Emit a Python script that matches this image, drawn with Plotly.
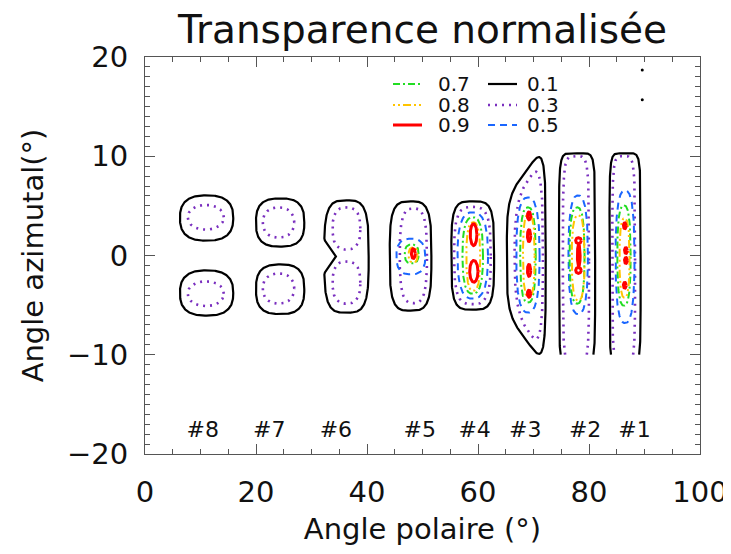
import numpy as np
import plotly.graph_objects as go

# ---------------- data ----------------
title_text = "Transparence normalisée"
x_title = "Angle polaire (°)"
y_title = "Angle azimutal(°)"

window_names = ["#8", "#7", "#6", "#5", "#4", "#3", "#2", "#1"]
window_label_x = [10.4, 22.4, 34.4, 49.5, 59.4, 68.5, 79.3, 88.2]
window_label_y = [-17.7] * 8

data_y_floor = -10.0   # lower edge of the computed domain

# each ring: (x_left, x_right, y_top_left, y_top_right, y_bottom_left, y_bottom_right)
rings_01 = [
    (6.3, 15.9, 6.06, 6.06, 1.5, 1.5), (6.3, 15.9, -1.5, -1.5, -6.06, -6.06),
    (20.0, 28.7, 5.75, 5.75, 0.9, 0.9), (20.0, 28.7, -0.9, -0.9, -5.9, -5.9),
    (32.3, 40.3, 5.55, 5.55, -5.75, -5.75),
    (44.1, 51.6, 5.45, 5.45, -5.55, -5.55),
    (55.2, 62.9, 5.45, 5.45, -5.45, -5.45),
    (65.2, 72.2, 5.9, 11.2, -5.9, -11.2),
    (74.6, 81.1, 10.3, 10.3, -11.0, -11.0),
    (83.7, 89.3, 10.3, 10.3, -11.0, -11.0),
]
pinch_01 = [0, 0, 0, 0, 2.1, 0, 0, 0, 0, 0]
shape_n_01 = [2.6, 2.6, 2.8, 2.8, 3.6, 3.6, 4.0, 4.5, 7.0, 7.0]

rings_03 = [
    (7.7, 14.2, 5.1, 5.1, 2.6, 2.6), (7.7, 14.2, -2.6, -2.6, -5.1, -5.1),
    (21.2, 26.9, 4.85, 4.85, 1.8, 1.8), (21.2, 26.9, -1.8, -1.8, -4.85, -4.85),
    (33.8, 38.8, 4.85, 4.85, 0.6, 0.6), (33.8, 38.8, -0.6, -0.6, -4.85, -4.85),
    (45.9, 50.8, 4.75, 4.75, -4.8, -4.8),
    (55.7, 62.3, 4.9, 4.9, -4.9, -4.9),
    (66.6, 71.7, 5.6, 9.8, -5.6, -9.8),
    (75.3, 80.0, 10.0, 10.0, -11.0, -11.0),
    (84.2, 88.3, 10.0, 10.0, -11.0, -11.0),
]
shape_n_03 = [2.1, 2.1, 2.2, 2.2, 2.6, 2.6, 3.0, 3.2, 3.2, 5.0, 5.0]

rings_05 = [
    (45.3, 50.5, 1.7, 1.7, -1.9, -1.9),
    (56.3, 61.8, 4.35, 4.35, -4.35, -4.35),
    (66.9, 71.1, 5.85, 5.85, -5.75, -5.75),
    (76.3, 79.8, 6.05, 6.05, -5.9, -5.9),
    (84.8, 88.2, 6.55, 6.55, -6.8, -6.8),
]

rings_07 = [
    (46.8, 49.3, 1.1, 1.1, -0.8, -0.8),
    (57.2, 60.9, 3.85, 3.85, -3.85, -3.85),
    (67.6, 70.4, 4.85, 4.85, -4.75, -4.75),
    (76.5, 79.2, 4.85, 4.85, -4.85, -4.85),
    (85.1, 87.5, 5.05, 5.05, -5.05, -5.05),
]

rings_08 = [
    (47.5, 49.1, 0.8, 0.8, -0.7, -0.7),
    (57.9, 60.4, 3.35, 3.35, -3.55, -3.55),
    (68.1, 70.2, 4.25, 4.25, -4.25, -4.25),
    (76.9, 79.2, 4.05, 4.05, -4.55, -4.55),
    (85.5, 87.3, 3.75, 3.75, -4.25, -4.25),
]

rings_09 = [
    (48.0, 48.7, 0.7, 0.7, -0.3, -0.3),
    (58.6, 59.8, 3.2, 3.2, 1.0, 1.0), (58.5, 60.0, -0.5, -0.5, -2.7, -2.7),
    (68.9, 69.5, 4.4, 4.4, 3.6, 3.6), (68.9, 69.5, 2.6, 2.6, 1.4, 1.4),
    (68.9, 69.5, -0.9, -0.9, -2.1, -2.1), (68.9, 69.5, -3.5, -3.5, -4.2, -4.2),
    (77.6, 78.6, 1.8, 1.8, 1.2, 1.2), (77.6, 78.6, -1.2, -1.2, -1.8, -1.8),
    (77.9, 78.4, 1.1, 1.1, -1.1, -1.1),
    (86.2, 86.7, 3.3, 3.3, 2.7, 2.7), (86.4, 86.9, 0.8, 0.8, 0.2, 0.2),
    (86.4, 86.9, -0.2, -0.2, -0.8, -0.8), (86.2, 86.7, -2.7, -2.7, -3.3, -3.3),
]

stray_x = [89.6, 89.6]
stray_y = [18.7, 15.7]

legend_col1 = ["0.7", "0.8", "0.9"]
legend_col2 = ["0.1", "0.3", "0.5"]

# ---------------- styles ----------------
styles = {
    "0.1": dict(color="#000000", dash="solid", width=2.2, n=4.0),
    "0.3": dict(color="#7a2fbf", dash="2px,5px", width=2.6, n=3.0),
    "0.5": dict(color="#1a66ff", dash="7px,5px", width=2.0, n=2.6),
    "0.7": dict(color="#22dd22", dash="7px,3px,2px,3px", width=2.0, n=2.6),
    "0.8": dict(color="#ffc400", dash="2px,3px,2px,3px,8px,3px", width=2.0, n=2.6),
    "0.9": dict(color="#ff0000", dash="solid", width=3.0, n=2.0),
}
level_rings = {"0.1": rings_01, "0.3": rings_03, "0.5": rings_05,
               "0.7": rings_07, "0.8": rings_08, "0.9": rings_09}
level_shape_n = {"0.1": shape_n_01, "0.3": shape_n_03}


def ring_path(r, n, pinch=0.0):
    x0, x1, ytl, ytr, ybl, ybr = r
    t = np.linspace(0, 2 * np.pi, 241)
    c, s = np.cos(t), np.sin(t)
    u = np.sign(c) * np.abs(c) ** (2.0 / n)
    v = np.sign(s) * np.abs(s) ** (2.0 / n)
    fx = (u + 1) / 2
    x = x0 + fx * (x1 - x0)
    ytop = ytl + fx * (ytr - ytl)
    ybot = ybl + fx * (ybr - ybl)
    y = (ytop + ybot) / 2 + v * (ytop - ybot) / 2
    if pinch:
        w = np.clip(1 - np.abs(v) / 0.3, 0, 1) * np.clip(-u, 0, 1)
        x = x + pinch * w
    xs, ys = [], []
    for xi, yi in zip(x, y):
        if yi < data_y_floor:
            xs.append(None)
            ys.append(None)
        else:
            xs.append(float(xi))
            ys.append(float(yi))
    return xs, ys


fig = go.Figure()
for lev in ["0.1", "0.3", "0.5", "0.7", "0.8", "0.9"]:
    st = styles[lev]
    xs_all, ys_all = [], []
    for i, r in enumerate(level_rings[lev]):
        p = pinch_01[i] if lev == "0.1" else 0.0
        n = level_shape_n[lev][i] if lev in level_shape_n else st["n"]
        xs, ys = ring_path(r, n, p)
        xs_all += xs + [None]
        ys_all += ys + [None]
    fig.add_trace(go.Scatter(
        x=xs_all, y=ys_all, mode="lines", connectgaps=False, hoverinfo="skip",
        line=dict(color=st["color"], dash=st["dash"], width=st["width"]),
        showlegend=False))

fig.add_trace(go.Scatter(x=stray_x, y=stray_y, mode="markers",
                         marker=dict(color="black", size=3), showlegend=False))

fig.add_trace(go.Scatter(x=window_label_x, y=window_label_y, mode="text",
                         text=window_names, textposition="middle center",
                         textfont=dict(family="DejaVu Sans", size=22, color="#111"),
                         showlegend=False, hoverinfo="skip"))

# ---------------- layout (page body has an 8px margin) ----------------
PAGE_OFF = 8
W, H = 731 - PAGE_OFF, 554 - PAGE_OFF
L, R, T, B = 145 - PAGE_OFF, 31, 57 - PAGE_OFF, 100
pw, ph = W - L - R, H - T - B


def px2paper(px, py):
    """screen pixel of the reference -> paper coords"""
    return (px - PAGE_OFF - L) / pw, (PAGE_OFF + T + ph - py) / ph


shapes = []
annotations = []
row_py = [84, 105, 125]
for col_labels, lx0, lx1, tx in [(legend_col1, 393, 422, 437), (legend_col2, 488, 517, 526)]:
    for lab, py in zip(col_labels, row_py):
        st = styles[lab]
        xa, ya = px2paper(lx0, py)
        xb, _ = px2paper(lx1, py)
        shapes.append(dict(type="line", xref="paper", yref="paper", x0=xa, x1=xb, y0=ya, y1=ya,
                           line=dict(color=st["color"], dash=st["dash"], width=st["width"])))
        xt, yt = px2paper(tx, py)
        annotations.append(dict(x=xt, y=yt, xref="paper", yref="paper", text=lab,
                                showarrow=False, xanchor="left", yanchor="middle", borderpad=0,
                                font=dict(family="DejaVu Sans", size=20, color="#111")))

axis_common = dict(showline=True, linecolor="#555", linewidth=1.2, mirror="ticks",
                   ticks="inside", tickcolor="#555", ticklen=10, tickwidth=1,
                   showgrid=False, zeroline=False, automargin=False,
                   tickfont=dict(family="DejaVu Sans", size=29, color="#111"))

fig.update_layout(
    width=W, height=H,
    margin=dict(l=L, r=R, t=T, b=B),
    plot_bgcolor="white", paper_bgcolor="white",
    title=dict(text=title_text, x=(L + pw / 2) / W, xanchor="center", y=1 - 21 / H,
               yanchor="middle", font=dict(family="DejaVu Sans", size=39, color="#111")),
    xaxis=dict(range=[0, 100], dtick=20, tick0=0, ticklabelstandoff=12,
               minor=dict(dtick=5, ticks="inside", ticklen=5, tickcolor="#555"),
               title=dict(text=x_title, font=dict(family="DejaVu Sans", size=29, color="#111"),
                          standoff=10),
               **axis_common),
    yaxis=dict(range=[-20, 20], dtick=10, tick0=0, ticklabelstandoff=10,
               minor=dict(dtick=1, ticks="inside", ticklen=5, tickcolor="#555"),
               title=dict(text=y_title, font=dict(family="DejaVu Sans", size=29, color="#111"),
                          standoff=14),
               **axis_common),
    shapes=shapes, annotations=annotations,
)

fig.write_html("out.html")
